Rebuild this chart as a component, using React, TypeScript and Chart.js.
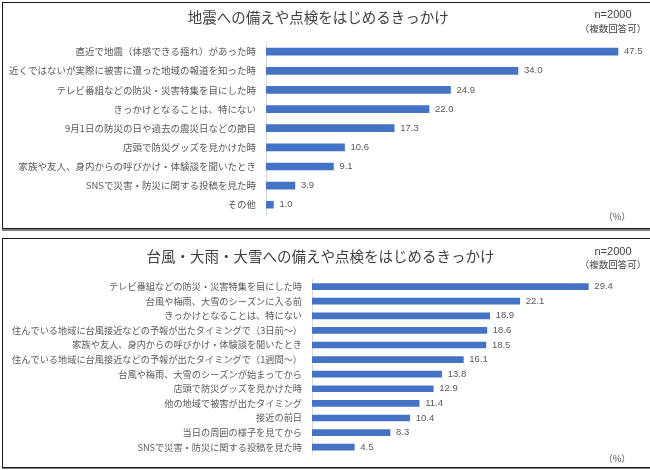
import React, { useEffect, useRef } from "react";
import { Chart, registerables } from "chart.js";

Chart.register(...registerables);

const quakeTitle = "地震への備えや点検をはじめるきっかけ";
const quakeLabels = [
  "直近で地震（体感できる揺れ）があった時",
  "近くではないが実際に被害に遭った地域の報道を知った時",
  "テレビ番組などの防災・災害特集を目にした時",
  "きっかけとなることは、特にない",
  "9月1日の防災の日や過去の震災日などの節目",
  "店頭で防災グッズを見かけた時",
  "家族や友人、身内からの呼びかけ・体験談を聞いたとき",
  "SNSで災害・防災に関する投稿を見た時",
  "その他",
];
const quakeValues = [47.5, 34.0, 24.9, 22.0, 17.3, 10.6, 9.1, 3.9, 1.0];

const stormTitle = "台風・大雨・大雪への備えや点検をはじめるきっかけ";
const stormLabels = [
  "テレビ番組などの防災・災害特集を目にした時",
  "台風や梅雨、大雪のシーズンに入る前",
  "きっかけとなることは、特にない",
  "住んでいる地域に台風接近などの予報が出たタイミングで（3日前～）",
  "家族や友人、身内からの呼びかけ・体験談を聞いたとき",
  "住んでいる地域に台風接近などの予報が出たタイミングで（1週間～）",
  "台風や梅雨、大雪のシーズンが始まってから",
  "店頭で防災グッズを見かけた時",
  "他の地域で被害が出たタイミング",
  "接近の前日",
  "当日の周囲の様子を見てから",
  "SNSで災害・防災に関する投稿を見た時",
];
const stormValues = [29.4, 22.1, 18.9, 18.6, 18.5, 16.1, 13.8, 12.9, 11.4, 10.4, 8.3, 4.5];

const sampleText = "n=2000";
const multiText = "（複数回答可）";
const unitText = "（%）";

const CJK = "'Noto Sans CJK JP', 'Noto Sans', sans-serif";
const NUM = "'Liberation Sans', Arial, sans-serif";
const BAR = "#4472C4";
const TXT = "#595959";

const valueLabelPlugin = {
  id: "valueLabels",
  afterDatasetsDraw(chart: any) {
    const ctx = chart.ctx;
    const meta = chart.getDatasetMeta(0);
    const data = chart.data.datasets[0].data;
    ctx.save();
    ctx.font = `9.5px ${NUM}`;
    ctx.fillStyle = TXT;
    ctx.textBaseline = "middle";
    ctx.textAlign = "left";
    meta.data.forEach((bar: any, i: number) => {
      ctx.fillText(Number(data[i]).toFixed(1), bar.x + 6, bar.y);
    });
    ctx.restore();
  },
};

const noteTextPlugin = {
  id: "noteText",
  afterDraw(chart: any, _args: any, opts: any) {
    const ctx = chart.ctx;
    ctx.save();
    ctx.textAlign = "center";
    ctx.textBaseline = "middle";
    ctx.fillStyle = "#404040";
    ctx.font = `11px ${NUM}`;
    ctx.fillText(sampleText, opts.noteX, opts.nY);
    ctx.font = `9.5px ${CJK}`;
    ctx.fillText(multiText, opts.noteX, opts.mY);
    ctx.fillStyle = TXT;
    ctx.font = `9.5px ${CJK}`;
    ctx.fillText(unitText, opts.noteX + 4, opts.uY);
    ctx.restore();
  },
};

type PanelProps = {
  title: string;
  labels: string[];
  values: number[];
  top: number;
  height: number;
  axisWidth: number;
  xMax: number;
  padRight: number;
  padBottom: number;
  titleTop: number;
  titleBottom: number;
  barThickness: number;
  labelSize: number;
  nY: number;
  mY: number;
  uY: number;
};

function BarPanel(p: PanelProps) {
  const ref = useRef<HTMLCanvasElement | null>(null);
  useEffect(() => {
    if (!ref.current) return;
    const chart = new Chart(ref.current, {
      type: "bar",
      data: {
        labels: p.labels,
        datasets: [
          {
            data: p.values,
            backgroundColor: BAR,
            barThickness: p.barThickness,
          },
        ],
      },
      plugins: [valueLabelPlugin, noteTextPlugin],
      options: {
        indexAxis: "y",
        responsive: false,
        animation: false,
        layout: { padding: { left: 0, right: p.padRight, top: 0, bottom: p.padBottom } },
        plugins: {
          legend: { display: false },
          tooltip: { enabled: false },
          title: {
            display: true,
            text: p.title,
            color: "#404040",
            font: { family: CJK, size: 14.5, weight: "normal" },
            padding: { top: p.titleTop, bottom: p.titleBottom },
          },
          noteText: { noteX: 613, nY: p.nY, mY: p.mY, uY: p.uY },
        } as any,
        scales: {
          x: { display: false, min: 0, max: p.xMax },
          y: {
            afterFit: (scale: any) => {
              scale.width = p.axisWidth;
            },
            ticks: { color: TXT, font: { family: CJK, size: p.labelSize }, padding: 10, autoSkip: false },
            grid: { display: true, color: "rgba(0,0,0,0)", drawTicks: false },
            border: { display: true, color: "#d9d9d9", width: 1 },
          },
        },
      } as any,
    });
    return () => chart.destroy();
  }, []);
  return (
    <canvas
      ref={ref}
      width={650}
      height={p.height}
      style={{ position: "absolute", left: 0, top: p.top, width: 650, height: p.height }}
    />
  );
}

export default function App() {
  return (
    <div
      style={{
        position: "absolute",
        left: 0,
        top: 0,
        width: 650,
        height: 470,
        overflow: "hidden",
        background: "#fff",
      }}
    >
      <div
        style={{
          position: "absolute",
          left: 2,
          top: 2,
          width: 700,
          height: 227,
          boxSizing: "border-box",
          border: "1px solid #1a1a1a",
          boxShadow: "0 2px 0 #808080",
        }}
      />
      <div
        style={{
          position: "absolute",
          left: 2,
          top: 238,
          width: 700,
          height: 230,
          boxSizing: "border-box",
          border: "1px solid #1a1a1a",
          boxShadow: "0 1px 0 #808080",
        }}
      />
      <BarPanel
        title={quakeTitle}
        labels={quakeLabels}
        values={quakeValues}
        top={0}
        height={230}
        axisWidth={266}
        xMax={50}
        padRight={13.5}
        padBottom={10}
        titleTop={9}
        titleBottom={15.7}
        barThickness={7}
        labelSize={9.5}
        nY={15}
        mY={28}
        uY={216}
      />
      <BarPanel
        title={stormTitle}
        labels={stormLabels}
        values={stormValues}
        top={236}
        height={234}
        axisWidth={312}
        xMax={35}
        padRight={9}
        padBottom={6.3}
        titleTop={12}
        titleBottom={13.9}
        barThickness={6}
        labelSize={9.2}
        nY={15.7}
        mY={28}
        uY={222}
      />
    </div>
  );
}
